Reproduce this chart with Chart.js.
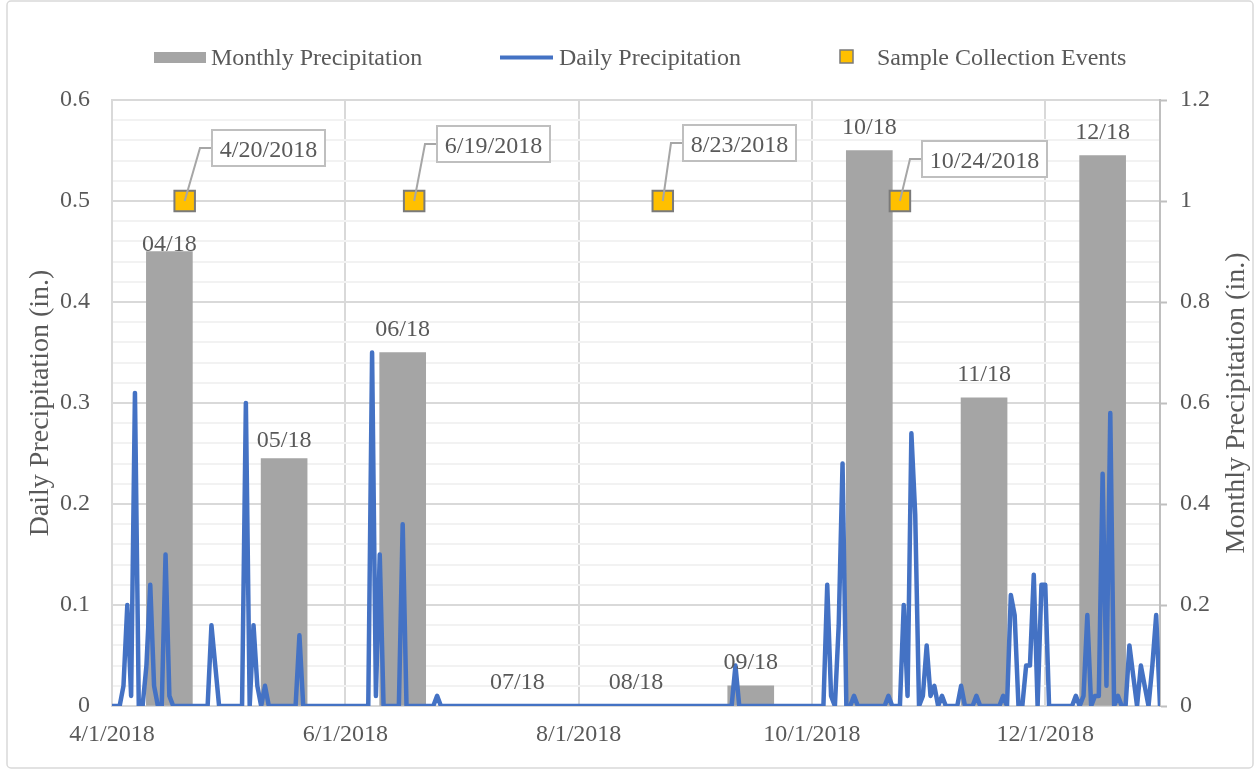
<!DOCTYPE html>
<html>
<head>
<meta charset="utf-8">
<script src="https://cdn.jsdelivr.net/npm/chart.js@4.4.1/dist/chart.umd.min.js"></script>
<style>
html,body{margin:0;padding:0;background:#fff;}
canvas{display:block;}
</style>
</head>
<body>
<canvas id="c" width="1255" height="770"></canvas>
<script>
// ---------------- DATA ----------------
const startDate = '2018-04-01';
const endDate = '2018-12-31';
const xTickDates = ['2018-04-01', '2018-06-01', '2018-08-01', '2018-10-01', '2018-12-01'];
const xTickLabels = ['4/1/2018', '6/1/2018', '8/1/2018', '10/1/2018', '12/1/2018'];

// daily precipitation (in.), one value per day of each month
const dailyApr = [0,0,0,0.02,0.10,0.01,0.31,0,0,0.04,0.12,0.02,0,0,0.15,0.01,0,0,0,0,0,0,0,0,0,0,0.08,0.04,0,0];
const dailyMay = [0,0,0,0,0,0.30,0,0.08,0.02,0,0.02,0,0,0,0,0,0,0,0,0.07,0,0,0,0,0,0,0,0,0,0,0];
const dailyJun = [0,0,0,0,0,0,0,0.35,0.01,0.15,0,0,0,0,0,0.18,0,0,0,0,0,0,0,0,0.01,0,0,0,0,0];
const dailyJul = [0,0,0,0,0,0,0,0,0,0,0,0,0,0,0,0,0,0,0,0,0,0,0,0,0,0,0,0,0,0,0];
const dailyAug = [0,0,0,0,0,0,0,0,0,0,0,0,0,0,0,0,0,0,0,0,0,0,0,0,0,0,0,0,0,0,0];
const dailySep = [0,0,0,0,0,0,0,0,0,0,0.04,0,0,0,0,0,0,0,0,0,0,0,0,0,0,0,0,0,0,0];
const dailyOct = [0,0,0,0,0.12,0.01,0,0.08,0.24,0,0,0.01,0,0,0,0,0,0,0,0,0.01,0,0,0,0.10,0.01,0.27,0.19,0,0.01,0.06];
const dailyNov = [0.01,0.02,0,0.01,0,0,0,0,0.02,0,0,0,0.01,0,0,0,0,0,0,0.01,0,0.11,0.09,0,0,0.04,0.04,0.13,0,0.12];
const dailyDec = [0.12,0,0,0,0,0,0,0,0.01,0,0.01,0.09,0,0.01,0.01,0.23,0.02,0.29,0,0.01,0,0,0.06,0.03,0,0.04,0.02,0,0.04,0.09,0];

// monthly precipitation (in.)
const monthLabels = ['04/18', '05/18', '06/18', '07/18', '08/18', '09/18', '10/18', '11/18', '12/18'];
const monthBarDates = ['2018-04-16', '2018-05-16', '2018-06-16', '2018-07-16', '2018-08-16', '2018-09-15', '2018-10-16', '2018-11-15', '2018-12-16'];
const monthlyPrecip = [0.90, 0.49, 0.70, 0, 0, 0.04, 1.10, 0.61, 1.09];

// sample collection events
const sampleDates = ['2018-04-20', '2018-06-19', '2018-08-23', '2018-10-24'];
const sampleLabels = ['4/20/2018', '6/19/2018', '8/23/2018', '10/24/2018'];
const sampleLevel = [0.5, 0.5, 0.5, 0.5];

// ---------------- helpers / styling ----------------
const DAY = 86400000;
const dayIndex = s => Math.round((Date.parse(s) - Date.parse(startDate)) / DAY);
const xMax = dayIndex(endDate);
const xTickDays = xTickDates.map(dayIndex);

const dailyAll = [].concat(dailyApr, dailyMay, dailyJun, dailyJul, dailyAug, dailySep, dailyOct, dailyNov, dailyDec);
const dailyPoints = dailyAll.map((v, i) => ({ x: i, y: v }));
const barPoints = monthlyPrecip.map((v, i) => ({ x: dayIndex(monthBarDates[i]), y: v }));
const samplePoints = sampleLevel.map((v, i) => ({ x: dayIndex(sampleDates[i]), y: v }));

const FONT = "'Liberation Serif', 'Times New Roman', serif";
const TXT = '#595959';
const calloutOffsets = [[27, -71], [23, -75], [20, -76], [22, -60]];
const barLabelLift = [1, 12, 17, 17, 17, 17, 17, 17, 17];

Chart.defaults.font.family = FONT;
Chart.defaults.color = TXT;

const fmt = v => (Math.abs(v) < 1e-9 ? '0' : (Math.abs(v * 10 - Math.round(v * 10)) < 1e-6 ? String(Math.round(v * 10) / 10) : ''));

const decorPlugin = {
  id: 'decor',
  beforeDraw(chart) {
    const ctx = chart.ctx;
    ctx.save();
    ctx.fillStyle = '#ffffff';
    ctx.fillRect(0, 0, chart.width, chart.height);
    ctx.strokeStyle = '#d9d9d9';
    ctx.lineWidth = 1.5;
    ctx.beginPath();
    ctx.roundRect(7, 1, 1246, 767, 4);
    ctx.stroke();
    ctx.restore();
  },
  afterDatasetsDraw(chart) {
    const ctx = chart.ctx;
    ctx.save();
    ctx.font = '24px ' + FONT;
    ctx.fillStyle = TXT;
    ctx.textAlign = 'center';
    ctx.textBaseline = 'alphabetic';
    // bar labels
    const barMeta = chart.getDatasetMeta(2);
    barMeta.data.forEach((bar, i) => {
      ctx.fillText(monthLabels[i], bar.x, bar.y - barLabelLift[i]);
    });
    // callouts
    const sMeta = chart.getDatasetMeta(0);
    sMeta.data.forEach((pt, i) => {
      const [dx, dy] = calloutOffsets[i];
      const text = sampleLabels[i];
      const w = Math.round(ctx.measureText(text).width + 16);
      const h = 36;
      const bx = Math.round(pt.x + dx), by = Math.round(pt.y + dy);
      ctx.strokeStyle = '#a6a6a6';
      ctx.lineWidth = 2;
      ctx.beginPath();
      ctx.moveTo(bx, by + h / 2);
      ctx.lineTo(bx - 12, by + h / 2);
      ctx.lineTo(pt.x, pt.y);
      ctx.stroke();
      ctx.fillStyle = '#ffffff';
      ctx.fillRect(bx, by, w, h);
      ctx.strokeStyle = '#bfbfbf';
      ctx.strokeRect(bx, by, w, h);
      ctx.fillStyle = TXT;
      ctx.fillText(text, bx + w / 2, by + h / 2 + 9);
    });
    ctx.restore();
  },
  afterDraw(chart) {
    const ctx = chart.ctx;
    const ds = chart.data.datasets;
    ctx.save();
    ctx.font = '24px ' + FONT;
    ctx.fillStyle = TXT;
    ctx.textAlign = 'left';
    ctx.textBaseline = 'alphabetic';
    // legend: Monthly Precipitation
    ctx.fillStyle = ds[2].backgroundColor;
    ctx.fillRect(154, 52, 52, 11);
    ctx.fillStyle = TXT;
    ctx.fillText(ds[2].label, 211, 65);
    // legend: Daily Precipitation
    ctx.strokeStyle = ds[1].borderColor;
    ctx.lineWidth = 4;
    ctx.beginPath();
    ctx.moveTo(500, 57.5);
    ctx.lineTo(553, 57.5);
    ctx.stroke();
    ctx.fillText(ds[1].label, 559, 65);
    // legend: Sample Collection Events
    ctx.fillStyle = ds[0].backgroundColor;
    ctx.fillRect(840, 50, 13, 13);
    ctx.strokeStyle = ds[0].borderColor;
    ctx.lineWidth = 1.5;
    ctx.strokeRect(840, 50, 13, 13);
    ctx.fillStyle = TXT;
    ctx.fillText(ds[0].label, 877, 65);
    // right axis title (reads bottom-to-top)
    const ca = chart.chartArea;
    ctx.font = '28px ' + FONT;
    ctx.translate(1237, (ca.top + ca.bottom) / 2);
    ctx.rotate(-Math.PI / 2);
    ctx.textAlign = 'center';
    ctx.textBaseline = 'middle';
    ctx.fillText('Monthly Precipitation (in.)', 0, 0);
    ctx.restore();
  }
};

new Chart(document.getElementById('c'), {
  data: {
    datasets: [
      {
        type: 'scatter',
        label: 'Sample Collection Events',
        data: samplePoints,
        yAxisID: 'y',
        pointStyle: 'rect',
        pointRadius: 14.5,
        pointHoverRadius: 14.5,
        backgroundColor: '#FFC000',
        borderColor: '#7a7a7a',
        borderWidth: 2,
        order: 0
      },
      {
        type: 'line',
        label: 'Daily Precipitation',
        data: dailyPoints,
        yAxisID: 'y',
        borderColor: '#4472C4',
        backgroundColor: '#4472C4',
        borderWidth: 4.5,
        borderJoinStyle: 'round',
        borderCapStyle: 'round',
        pointRadius: 0,
        tension: 0,
        order: 1
      },
      {
        type: 'bar',
        label: 'Monthly Precipitation',
        data: barPoints,
        yAxisID: 'y2',
        backgroundColor: '#A5A5A5',
        barThickness: 46,
        order: 2
      }
    ]
  },
  options: {
    responsive: false,
    animation: false,
    devicePixelRatio: 1,
    events: [],
    layout: { padding: { top: 100, left: 0, right: 0, bottom: 0 } },
    plugins: { legend: { display: false }, tooltip: { enabled: false } },
    scales: {
      x: {
        type: 'linear',
        position: 'bottom',
        offset: false,
        min: 0,
        max: xMax,
        afterBuildTicks: s => { s.ticks = xTickDays.map(v => ({ value: v })); },
        afterFit: s => { s.height = 64; },
        ticks: {
          autoSkip: false,
          maxRotation: 0,
          padding: 14,
          font: { size: 24, family: FONT },
          color: TXT,
          callback: v => { const k = xTickDays.indexOf(v); return k >= 0 ? xTickLabels[k] : ''; }
        },
        grid: { offset: false, color: '#d9d9d9', lineWidth: 2, drawTicks: false },
        border: { color: '#d9d9d9', width: 2 }
      },
      y: {
        position: 'left',
        min: 0,
        max: 0.6,
        afterFit: s => { s.width = 112; },
        ticks: {
          stepSize: 0.02,
          autoSkip: false,
          padding: 22,
          font: { size: 24, family: FONT },
          color: TXT,
          callback: v => fmt(v)
        },
        grid: {
          drawTicks: false,
          lineWidth: 2,
          color: c => (fmt(c.tick.value) !== '' ? '#d9d9d9' : '#f2f2f2')
        },
        border: { color: '#d9d9d9', width: 2 },
        title: {
          display: true,
          text: 'Daily Precipitation (in.)',
          font: { size: 28, family: FONT },
          color: TXT,
          padding: { top: 24, bottom: 0 }
        }
      },
      y2: {
        position: 'right',
        min: 0,
        max: 1.2,
        afterFit: s => { s.width = 95; },
        ticks: {
          stepSize: 0.2,
          padding: 13,
          font: { size: 24, family: FONT },
          color: TXT,
          callback: v => (Math.abs(v) < 1e-9 ? '0' : String(Math.round(v * 10) / 10))
        },
        grid: { drawOnChartArea: false, drawTicks: true, tickLength: 7, tickColor: '#bfbfbf', tickWidth: 2 },
        border: { color: '#bfbfbf', width: 2 }
      }
    }
  },
  plugins: [decorPlugin]
});
</script>
</body>
</html>
